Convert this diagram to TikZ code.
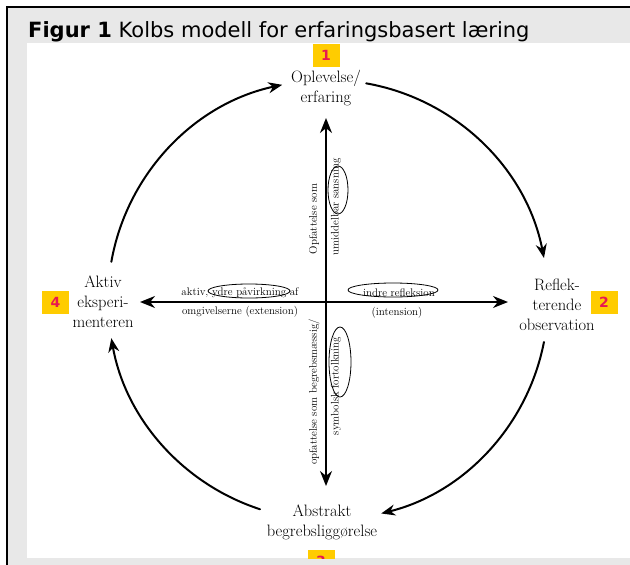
\documentclass[tikz,border=0pt]{standalone}
\usepackage{fontspec}
\usetikzlibrary{arrows.meta}
\newfontfamily\titlefont{DejaVu Sans}
\definecolor{boxyellow}{RGB}{255, 204, 0}
\definecolor{boxred}{RGB}{232, 24, 80}
\definecolor{panelgrey}{RGB}{232, 232, 232}
\def\rkreis{220}

\begin{document}
\begin{tikzpicture}[x=1pt, y=-1pt, line cap=round,
    tall/.style={font=\titlefont\bfseries\fontsize{14}{14}\selectfont, text=boxred, fill=boxyellow, minimum width=27pt, minimum height=23pt, inner sep=0pt},
    fase/.style={font=\fontsize{16.5}{20}\selectfont, align=center, inner sep=2pt},
    merk/.style={font=\fontsize{11}{12}\selectfont, inner sep=1pt},
    akse/.style={line width=2pt, {Stealth[length=15pt,width=12pt]}-{Stealth[length=15pt,width=12pt]}},
    kreis/.style={line width=2pt, -{Stealth[length=14pt,width=11pt]}},
    ring/.style={line width=0.8pt}]

                 \useasboundingbox (0, 0) rectangle (630, 565);
                 \fill[white] (0, 0) rectangle (630, 565);
                 \fill[panelgrey] (7, 7) rectangle (630, 565);
                 \draw[line width=2pt, line cap=butt] (7, 565) -- (7, 7) -- (630, 7);
                 \fill[white] (27, 43) rectangle (630, 558);

                 \node[anchor=base west, inner sep=0pt, font=\titlefont\fontsize{21}{21}\selectfont] (titel) at (28, 37.5) {\textbf{Figur 1} Kolbs modell for erfaringsbasert læring};

                 \node[fase] (erfaring) at (326, 88) {Oplevelse/\\erfaring};
                 \node[fase] (observasjon) at (557, 305) {Reflek-\\terende\\observation};
                 \node[fase] (begrep) at (322, 522) {Abstrakt\\begrebsliggørelse};
                 \node[fase] (aktiv) at (103, 302) {Aktiv\\eksperi-\\menteren};

                 \node[tall] (tall1) at (326, 55) {1};
                 \node[tall] (tall2) at (604, 302) {2};
                 \node[tall] (tall4) at (55.5, 302) {4};
                 \begin{scope}
                 \clip (27, 43) rectangle (630, 558);
                 \node[tall] (tall3) at (321, 561) {3};
                 \end{scope}

                 \coordinate (akseN) at (326, 118);
                 \coordinate (akseS) at (326, 486);
                 \coordinate (akseV) at (140, 302);
                 \coordinate (akseH) at (508, 302);
                 \draw[akse] (akseS) -- (akseN);
                 \draw[akse] (akseV) -- (akseH);

                 \coordinate (c) at (328, 300);
                 \draw[kreis] ([shift={(190:\rkreis)}]c) arc[start angle=190, end angle=258, radius=\rkreis];
                 \draw[kreis] ([shift={(280:\rkreis)}]c) arc[start angle=280, end angle=349, radius=\rkreis];
                 \draw[kreis] ([shift={(11:\rkreis)}]c) arc[start angle=11, end angle=76, radius=\rkreis];
                 \draw[kreis] ([shift={(108:\rkreis)}]c) arc[start angle=108, end angle=170, radius=\rkreis];

                 \node[merk, rotate=90] (sansA) at (314, 219) {Opfattelse som};
                 \node[merk, rotate=90] (sansB) at (336, 207) {umiddelbar sansning};
                 \node[merk, rotate=90] (tolkA) at (314, 392) {opfattelse som begrebsmæssig/};
                 \node[merk, rotate=90] (tolkB) at (336, 386) {symbolsk fortolkning};
                 \node[merk] (extA) at (240, 293) {aktiv, ydre påvirkning af};
                 \node[merk] (extB) at (240, 312) {omgivelserne (extension)};
                 \node[merk] (intA) at (399, 293) {indre refleksion};
                 \node[merk] (intB) at (397, 313) {(intension)};

                 \draw[ring] (338, 190) ellipse[x radius=10, y radius=24];
                 \draw[ring] (340, 362) ellipse[x radius=11, y radius=35];
                 \draw[ring] (249, 291) ellipse[x radius=41, y radius=7];
                 \draw[ring] (393, 290) ellipse[x radius=45, y radius=7];

             \end{tikzpicture}
\end{document}
